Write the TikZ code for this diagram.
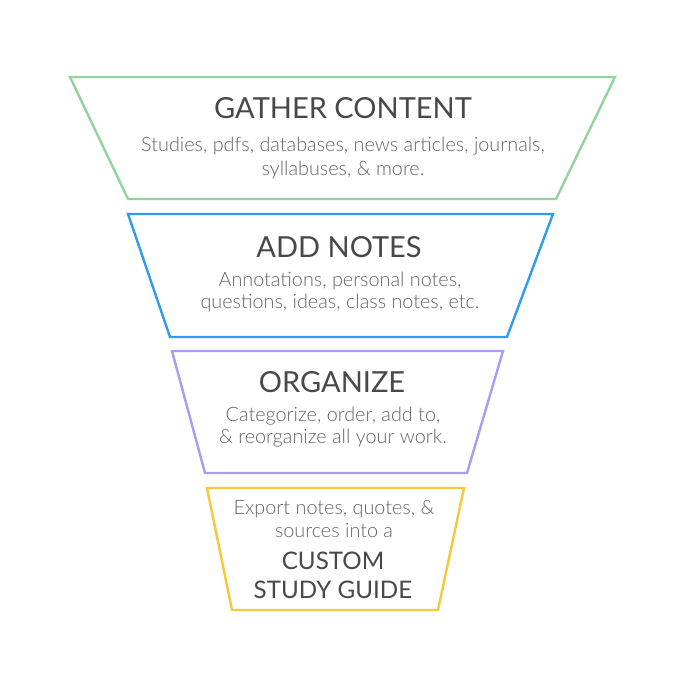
\documentclass[tikz,border=0pt]{standalone}
\usepackage{fontspec}
\setmainfont{Lato}
\newfontfamily\lightfont{Lato Light}
\definecolor{cgreen}{RGB}{146,212,155}
\definecolor{cblue}{RGB}{50,156,236}
\definecolor{cpurple}{RGB}{168,158,240}
\definecolor{cyellow}{RGB}{246,200,60}
\definecolor{ctitle}{RGB}{72,72,72}
\definecolor{cbody}{RGB}{100,100,100}
\tikzset{
  trap/.style={line width=2.4pt, line join=miter, fill=white},
  ttl/.style={text=ctitle, font=\fontsize{29}{33}\selectfont, inner sep=0pt, anchor=center},
  ttlsmall/.style={ttl, font=\fontsize{24.2}{28}\selectfont},
  bdy/.style={text=cbody, font=\lightfont\fontsize{19.8}{22}\selectfont, inner sep=0pt, anchor=center}
}
\begin{document}
\begin{tikzpicture}[x=1pt,y=-1pt]
\useasboundingbox (0,0) rectangle (689,679);
\fill[white] (0,0) rectangle (689,679);
\draw[trap,draw=cgreen] (70,77) -- (615,77) -- (556,199) -- (128,199) -- cycle;
\draw[trap,draw=cblue] (128,214) -- (553,214) -- (507,337) -- (170,337) -- cycle;
\draw[trap,draw=cpurple] (172,351) -- (503,351) -- (467,473) -- (205,473) -- cycle;
\draw[trap,draw=cyellow] (207,488) -- (464,488) -- (438,610) -- (232,610) -- cycle;
\node[ttl] (t1) at (343,108) {GATHER CONTENT};
\node[bdy] (b1a) at (343,146) {Studies, pdfs, databases, news articles, journals,};
\node[bdy] (b1b) at (343,170) {syllabuses, \& more.};
\node[ttl] (t2) at (339,247) {ADD NOTES};
\node[bdy] (b2a) at (340,281) {Annotations, personal notes,};
\node[bdy] (b2b) at (340,303) {questions, ideas, class notes, etc.};
\node[ttl] (t3) at (332,382) {ORGANIZE};
\node[bdy] (b3a) at (333,416) {Categorize, order, add to,};
\node[bdy] (b3b) at (333,438) {\& reorganize all your work.};
\node[bdy] (b4a) at (334,509) {Export notes, quotes, \&};
\node[bdy] (b4b) at (334,531) {sources into a};
\node[ttlsmall] (t4a) at (333,561) {CUSTOM};
\node[ttlsmall] (t4b) at (333,590) {STUDY GUIDE};
\end{tikzpicture}
\end{document}
